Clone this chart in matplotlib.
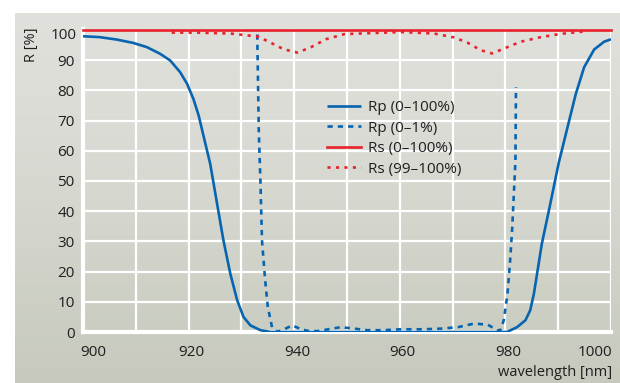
import numpy as np
import matplotlib
matplotlib.use("Agg")
import matplotlib.pyplot as plt
import matplotlib.transforms as mtransforms
from matplotlib.colors import LinearSegmentedColormap

plt.rcParams['font.family'] = ['Open Sans', 'DejaVu Sans']

# Rp, full scale (0-100 %)
rp_wl = [900.0, 903.2, 906.4, 909.5, 912.1, 914.6, 916.5, 918.4, 919.7, 920.9,
         921.9, 922.8, 924.1, 925.4, 926.6, 927.9, 929.2, 930.4, 931.7, 933.6,
         935.5, 950, 970, 980.3, 982.2, 983.8, 984.7, 985.4, 986.9, 988.5,
         990.1, 991.7, 993.3, 994.9, 996.8, 998.7, 1000.0]
rp_val = [97.9, 97.6, 96.8, 95.7, 94.3, 92.1, 89.9, 86.0, 82.2, 77.2,
          71.7, 65.1, 55.6, 42.4, 30.3, 19.3, 10.5, 5.0, 2.2, 0.6,
          0.0, 0.0, 0.0, 0.0, 1.6, 3.9, 7.2, 12.7, 29.2, 42.4,
          56.0, 67.3, 78.6, 87.6, 93.5, 96.1, 96.9]

# Rp, expanded scale (0-1 %)
rp1_wl = [933.0, 933.3, 933.6, 933.9, 934.5, 935.0, 935.8, 936.8, 938.0, 939.6,
          941.2, 942.5, 944.4, 946.5, 948.8, 951.0, 953.8, 957.0, 960.1, 964.0,
          967.7, 971.0, 974.1, 976.7, 978.4, 979.0, 979.7, 980.4, 980.9, 981.3,
          981.6, 981.9, 982.0]
rp1_val = [98.5, 66.0, 50.0, 30.3, 17.1, 8.3, 1.6, 0.1, 0.8, 2.2,
           1.0, 0.4, 0.3, 0.9, 1.6, 1.2, 0.6, 0.6, 0.9, 0.9,
           1.1, 1.6, 2.8, 2.4, 0.6, 0.5, 3.9, 12.7, 23.7, 34.7,
           45.7, 56.7, 81.0]

# Rs, full scale (0-100 %)
rs_wl = [900, 1000]
rs_val = [100, 100]

# Rs, expanded scale (99-100 %)
rs99_wl = [916.8, 922.0, 927.9, 931.1, 933.3, 935.5, 938.0, 940.6, 943.1, 946.0,
           949.5, 953.9, 960.2, 966.5, 970.3, 972.8, 975.3, 977.5, 979.4, 982.9,
           986.7, 990.5, 994.6]
rs99_val = [99.1, 99.1, 98.8, 98.2, 97.7, 95.8, 93.6, 92.5, 94.2, 96.9,
            98.6, 98.9, 99.3, 98.8, 97.5, 95.8, 93.3, 92.2, 93.6, 96.1,
            97.6, 98.7, 99.4]

x_ticks = [900, 920, 940, 960, 980, 1000]
y_ticks = [0, 10, 20, 30, 40, 50, 60, 70, 80, 90]

BLUE = '#0764b0'
RED = '#e8222b'
TEXT = '#1f1f1f'
FS = 11

fig = plt.figure(figsize=(6.2, 3.83), dpi=100)
fig.patch.set_facecolor('white')

# gradient panel behind the chart
bg = fig.add_axes([15 / 620, 0, 1 - 15 / 620, 1 - 13 / 383], zorder=-5)
cmap = LinearSegmentedColormap.from_list('panel', ['#e0e1dc', '#d6d8d0', '#c6c9bc'])
bg.imshow(np.linspace(0, 1, 256).reshape(-1, 1), aspect='auto', cmap=cmap,
          extent=[0, 1, 0, 1])
bg.set_axis_off()

ax = fig.add_axes([83 / 620, 1 - 332 / 383, (611 - 83) / 620, (332 - 29) / 383])
ax.set_facecolor('none')
ax.set_xlim(900, 1000)
ax.set_ylim(0, 100.3)

ax.set_xticks(x_ticks)
ax.set_xticks(np.arange(900, 1001, 10), minor=True)
ax.set_yticks(y_ticks)
ax.grid(True, which='both', color='white', linewidth=1.6, zorder=0)
ax.set_axisbelow(True)
ax.tick_params(which='both', length=0, labelsize=FS, colors=TEXT)
ax.tick_params(axis='x', labelbottom=False)
ax.tick_params(axis='y', pad=6)
for s in ['top', 'right']:
    ax.spines[s].set_visible(False)
for s in ['left', 'bottom']:
    ax.spines[s].set_color('white')
    ax.spines[s].set_linewidth(3)

# y label for the top value, nudged below the red 100 % line
ax.text(-6 / 528, 98.3, '100', transform=ax.get_yaxis_transform(),
        ha='right', va='center', fontsize=FS, color=TEXT)

# x tick labels, the outer ones kept inside the panel
xt = ax.get_xaxis_transform()
for v in x_ticks:
    if v == x_ticks[0]:
        ha, dx = 'left', -3
    elif v == x_ticks[-1]:
        ha, dx = 'right', 1
    else:
        ha, dx = 'center', 3
    tr = mtransforms.offset_copy(xt, fig=fig, x=dx, y=-20, units='dots')
    ax.text(v, 0, str(v), transform=tr, ha=ha, va='center', fontsize=FS, color=TEXT)

lw = 1.9
ax.plot(rp_wl, rp_val, color=BLUE, lw=lw, label='Rp (0–100%)', zorder=3,
        solid_capstyle='butt')
ax.plot(rp1_wl, rp1_val, color=BLUE, lw=lw, linestyle=(0, (2.0, 1.9)),
        label='Rp (0–1%)', zorder=3)
ax.plot(rs_wl, rs_val, color=RED, lw=lw, label='Rs (0–100%)', zorder=4,
        clip_on=False)
ax.plot(rs99_wl, rs99_val, color=RED, lw=lw, linestyle=(0, (1.2, 2.0)),
        label='Rs (99–100%)', zorder=3)

leg = ax.legend(loc='upper left', bbox_to_anchor=((321 - 83) / 528, (332 - 94) / 303),
                frameon=False, fontsize=FS, handlelength=2.2, handletextpad=0.45,
                labelspacing=0.36, borderaxespad=0)
for t in leg.get_texts():
    t.set_color(TEXT)

fig.text(612 / 620, 1 - 372 / 383, 'wavelength [nm]', ha='right', va='center',
         fontsize=10.5, color=TEXT)
fig.text(32 / 620, 1 - 28 / 383, 'R [%]', rotation=90, ha='center', va='top',
         fontsize=10.5, color=TEXT)

fig.savefig('out.png', dpi=100)
